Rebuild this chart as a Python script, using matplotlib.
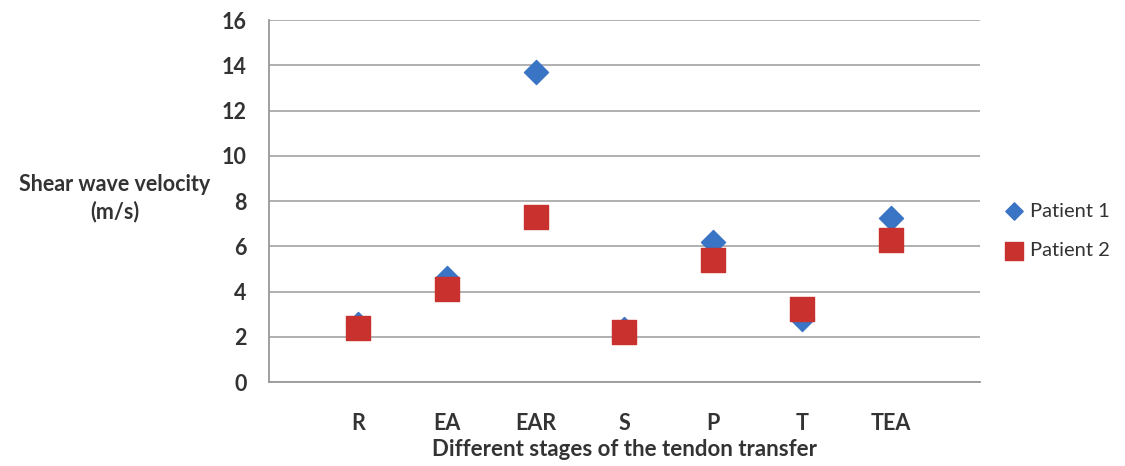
import matplotlib.pyplot as plt

# data
stages = ["R", "EA", "EAR", "S", "P", "T", "TEA"]
patient1 = [2.55, 4.6, 13.7, 2.35, 6.2, 2.8, 7.25]
patient2 = [2.4, 4.1, 7.3, 2.2, 5.4, 3.25, 6.3]

plt.rcParams['font.family'] = ['Lato', 'DejaVu Sans']
fs = 15.5

fig = plt.figure(figsize=(11.25, 4.66), dpi=100)
ax = fig.add_axes([0.239, 0.180, 0.632, 0.777])

x = range(1, len(stages) + 1)
ax.scatter(x, patient1, marker='D', s=150, color='#3a74c4', label='Patient 1', zorder=3)
ax.scatter(x, patient2, marker='s', s=290, color='#c8312d', label='Patient 2', zorder=4)

ax.set_xlim(0, 8)
ax.set_ylim(0, 16)
ax.set_yticks(range(0, 17, 2))
ax.set_xticks(list(x))
ax.set_xticklabels(stages, fontsize=fs, fontweight='bold', color='#333333')
ax.tick_params(axis='x', length=0, pad=22)
ax.tick_params(axis='y', length=0, pad=16, labelsize=fs, labelcolor='#333333')
for lab in ax.get_yticklabels():
    lab.set_fontweight('bold')

ax.grid(axis='y', color='#aaaaaa', linewidth=1.3)
ax.set_axisbelow(True)
for s in ['top', 'right']:
    ax.spines[s].set_visible(False)
for s in ['left', 'bottom']:
    ax.spines[s].set_color('#999999')
    ax.spines[s].set_linewidth(1.3)

ax.set_xlabel("Different stages of the tendon transfer", fontsize=fs + 0.5,
              fontweight='bold', color='#333333', labelpad=4)
fig.text(0.102, 0.575, "Shear wave velocity\n(m/s)", ha='center', va='center',
         fontsize=fs, fontweight='bold', color='#333333', linespacing=1.3)

fig.legend(loc='center left', bbox_to_anchor=(0.893, 0.505), frameon=False,
           fontsize=14.5, handlelength=0.9, handletextpad=0.35, labelspacing=1.1,
           borderpad=0, borderaxespad=0, markerscale=0.72, labelcolor='#333333')

fig.savefig("out.png")
